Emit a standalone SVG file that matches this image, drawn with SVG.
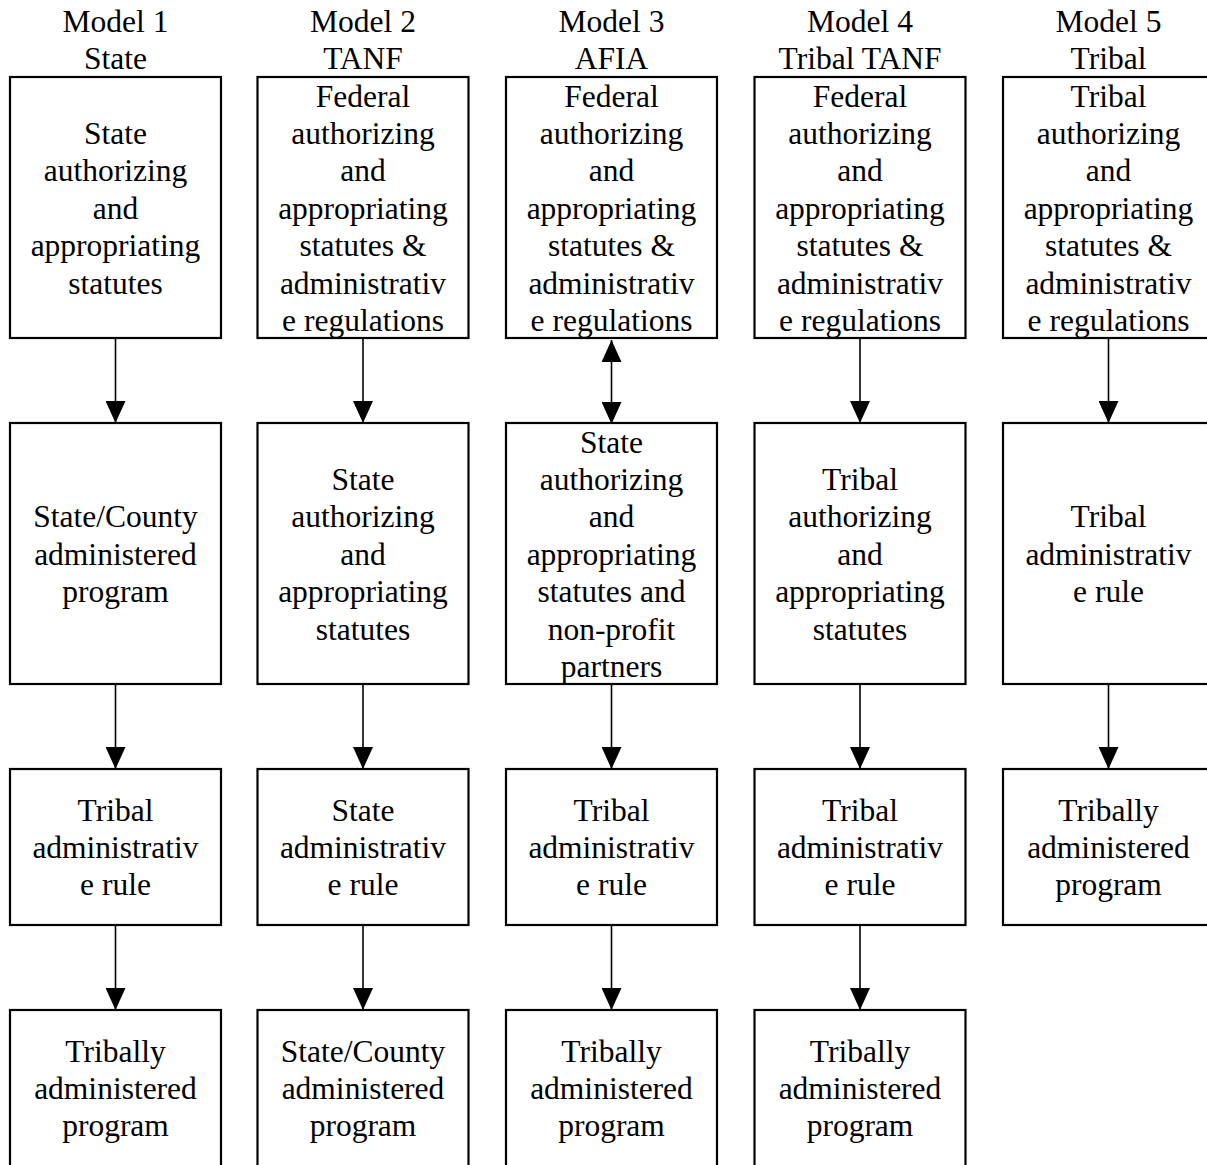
<svg xmlns="http://www.w3.org/2000/svg" width="1207" height="1165" viewBox="0 0 1207 1165">
<style>
  .box{fill:#fff;stroke:#000;stroke-width:2.2}
  text{font-family:"Liberation Serif","Times New Roman",serif;font-size:31.5px;fill:#000;text-anchor:middle}
  .conn{stroke:#000;stroke-width:1.6;fill:none}
</style>
<defs>
  <marker id="ah" viewBox="0 0 22 20" refX="22" refY="10" markerWidth="22" markerHeight="20" markerUnits="userSpaceOnUse" orient="auto-start-reverse">
    <path d="M0,0 L22,10 L0,20 z" fill="#000"/>
  </marker>
</defs>
<rect width="1207" height="1165" fill="#fff"/>

<g id="headers">
  <text x="115.5" y="31.7">Model 1</text><text x="115.5" y="69.1">State</text>
  <text x="363" y="31.7">Model 2</text><text x="363" y="69.1">TANF</text>
  <text x="611.5" y="31.7">Model 3</text><text x="611.5" y="69.1">AFIA</text>
  <text x="860" y="31.7">Model 4</text><text x="860" y="69.1">Tribal TANF</text>
  <text x="1108.5" y="31.7">Model 5</text><text x="1108.5" y="69.1">Tribal</text>
</g>

<g id="connectors">
  <line class="conn" x1="115.5" y1="338" x2="115.5" y2="423" marker-end="url(#ah)"/>
  <line class="conn" x1="115.5" y1="684" x2="115.5" y2="769" marker-end="url(#ah)"/>
  <line class="conn" x1="115.5" y1="925" x2="115.5" y2="1010" marker-end="url(#ah)"/>
  <line class="conn" x1="363" y1="338" x2="363" y2="423" marker-end="url(#ah)"/>
  <line class="conn" x1="363" y1="684" x2="363" y2="769" marker-end="url(#ah)"/>
  <line class="conn" x1="363" y1="925" x2="363" y2="1010" marker-end="url(#ah)"/>
  <line class="conn" x1="611.5" y1="340" x2="611.5" y2="424" marker-start="url(#ah)" marker-end="url(#ah)"/>
  <line class="conn" x1="611.5" y1="684" x2="611.5" y2="769" marker-end="url(#ah)"/>
  <line class="conn" x1="611.5" y1="925" x2="611.5" y2="1010" marker-end="url(#ah)"/>
  <line class="conn" x1="860" y1="338" x2="860" y2="423" marker-end="url(#ah)"/>
  <line class="conn" x1="860" y1="684" x2="860" y2="769" marker-end="url(#ah)"/>
  <line class="conn" x1="860" y1="925" x2="860" y2="1010" marker-end="url(#ah)"/>
  <line class="conn" x1="1108.5" y1="338" x2="1108.5" y2="423" marker-end="url(#ah)"/>
  <line class="conn" x1="1108.5" y1="684" x2="1108.5" y2="769" marker-end="url(#ah)"/>
</g>

<!-- Column 1 -->
<g id="m1r1"><rect class="box" x="10" y="77" width="211" height="261"/>
  <text x="115.5" y="143.9">State</text><text x="115.5" y="181.3">authorizing</text><text x="115.5" y="218.7">and</text><text x="115.5" y="256.1">appropriating</text><text x="115.5" y="293.5">statutes</text></g>
<g id="m1r2"><rect class="box" x="10" y="423" width="211" height="261"/>
  <text x="115.5" y="527.3">State/County</text><text x="115.5" y="564.7">administered</text><text x="115.5" y="602.1">program</text></g>
<g id="m1r3"><rect class="box" x="10" y="769" width="211" height="156"/>
  <text x="115.5" y="820.6">Tribal</text><text x="115.5" y="858">administrativ</text><text x="115.5" y="895.4">e rule</text></g>
<g id="m1r4"><rect class="box" x="10" y="1010" width="211" height="165"/>
  <text x="115.5" y="1061.6">Tribally</text><text x="115.5" y="1099">administered</text><text x="115.5" y="1136.4">program</text></g>

<!-- Column 2 -->
<g id="m2r1"><rect class="box" x="257.5" y="77" width="211" height="261"/>
  <text x="363" y="106.5">Federal</text><text x="363" y="143.9">authorizing</text><text x="363" y="181.3">and</text><text x="363" y="218.7">appropriating</text><text x="363" y="256.1">statutes &amp;</text><text x="363" y="293.5">administrativ</text><text x="363" y="330.9">e regulations</text></g>
<g id="m2r2"><rect class="box" x="257.5" y="423" width="211" height="261"/>
  <text x="363" y="489.9">State</text><text x="363" y="527.3">authorizing</text><text x="363" y="564.7">and</text><text x="363" y="602.1">appropriating</text><text x="363" y="639.5">statutes</text></g>
<g id="m2r3"><rect class="box" x="257.5" y="769" width="211" height="156"/>
  <text x="363" y="820.6">State</text><text x="363" y="858">administrativ</text><text x="363" y="895.4">e rule</text></g>
<g id="m2r4"><rect class="box" x="257.5" y="1010" width="211" height="165"/>
  <text x="363" y="1061.6">State/County</text><text x="363" y="1099">administered</text><text x="363" y="1136.4">program</text></g>

<!-- Column 3 -->
<g id="m3r1"><rect class="box" x="506" y="77" width="211" height="261"/>
  <text x="611.5" y="106.5">Federal</text><text x="611.5" y="143.9">authorizing</text><text x="611.5" y="181.3">and</text><text x="611.5" y="218.7">appropriating</text><text x="611.5" y="256.1">statutes &amp;</text><text x="611.5" y="293.5">administrativ</text><text x="611.5" y="330.9">e regulations</text></g>
<g id="m3r2"><rect class="box" x="506" y="423" width="211" height="261"/>
  <text x="611.5" y="452.5">State</text><text x="611.5" y="489.9">authorizing</text><text x="611.5" y="527.3">and</text><text x="611.5" y="564.7">appropriating</text><text x="611.5" y="602.1">statutes and</text><text x="611.5" y="639.5">non-profit</text><text x="611.5" y="676.9">partners</text></g>
<g id="m3r3"><rect class="box" x="506" y="769" width="211" height="156"/>
  <text x="611.5" y="820.6">Tribal</text><text x="611.5" y="858">administrativ</text><text x="611.5" y="895.4">e rule</text></g>
<g id="m3r4"><rect class="box" x="506" y="1010" width="211" height="165"/>
  <text x="611.5" y="1061.6">Tribally</text><text x="611.5" y="1099">administered</text><text x="611.5" y="1136.4">program</text></g>

<!-- Column 4 -->
<g id="m4r1"><rect class="box" x="754.5" y="77" width="211" height="261"/>
  <text x="860" y="106.5">Federal</text><text x="860" y="143.9">authorizing</text><text x="860" y="181.3">and</text><text x="860" y="218.7">appropriating</text><text x="860" y="256.1">statutes &amp;</text><text x="860" y="293.5">administrativ</text><text x="860" y="330.9">e regulations</text></g>
<g id="m4r2"><rect class="box" x="754.5" y="423" width="211" height="261"/>
  <text x="860" y="489.9">Tribal</text><text x="860" y="527.3">authorizing</text><text x="860" y="564.7">and</text><text x="860" y="602.1">appropriating</text><text x="860" y="639.5">statutes</text></g>
<g id="m4r3"><rect class="box" x="754.5" y="769" width="211" height="156"/>
  <text x="860" y="820.6">Tribal</text><text x="860" y="858">administrativ</text><text x="860" y="895.4">e rule</text></g>
<g id="m4r4"><rect class="box" x="754.5" y="1010" width="211" height="165"/>
  <text x="860" y="1061.6">Tribally</text><text x="860" y="1099">administered</text><text x="860" y="1136.4">program</text></g>

<!-- Column 5 -->
<g id="m5r1"><rect class="box" x="1003" y="77" width="211" height="261"/>
  <text x="1108.5" y="106.5">Tribal</text><text x="1108.5" y="143.9">authorizing</text><text x="1108.5" y="181.3">and</text><text x="1108.5" y="218.7">appropriating</text><text x="1108.5" y="256.1">statutes &amp;</text><text x="1108.5" y="293.5">administrativ</text><text x="1108.5" y="330.9">e regulations</text></g>
<g id="m5r2"><rect class="box" x="1003" y="423" width="211" height="261"/>
  <text x="1108.5" y="527.3">Tribal</text><text x="1108.5" y="564.7">administrativ</text><text x="1108.5" y="602.1">e rule</text></g>
<g id="m5r3"><rect class="box" x="1003" y="769" width="211" height="156"/>
  <text x="1108.5" y="820.6">Tribally</text><text x="1108.5" y="858">administered</text><text x="1108.5" y="895.4">program</text></g>
</svg>
